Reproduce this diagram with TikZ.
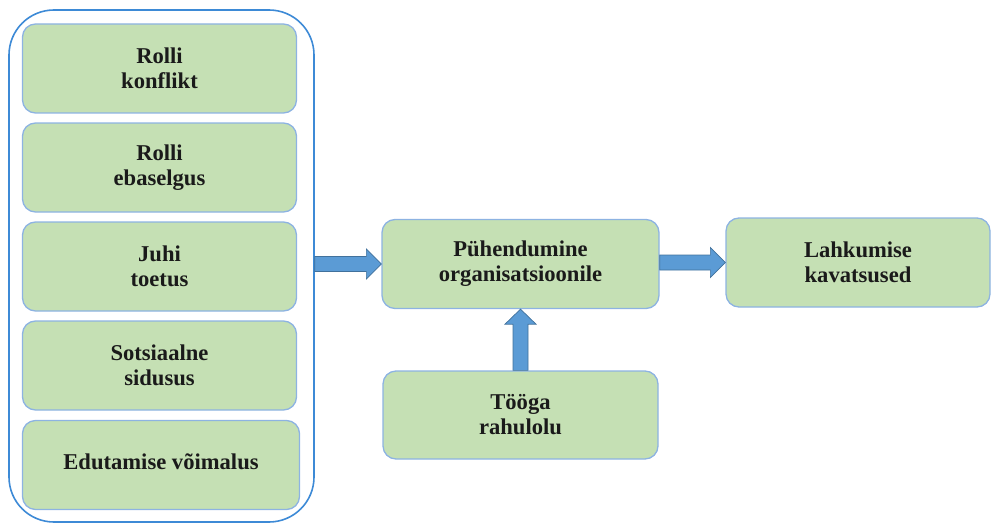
\documentclass[tikz,border=0pt]{standalone}
\usepackage{fontspec}
\setmainfont{Liberation Serif}
\usetikzlibrary{calc}

\definecolor{boxfill}{HTML}{C5E0B4}
\definecolor{boxline}{HTML}{8DB3E2}
\definecolor{groupline}{HTML}{3D8AD6}
\definecolor{arrowfill}{HTML}{5B9BD5}
\definecolor{arrowline}{HTML}{41719C}
\definecolor{textcol}{HTML}{1A1A1A}

% horizontal block arrow: from the x of #1 to the west anchor #2
\newcommand\hblockarrow[2]{%
  \filldraw[blockarrow]
    ($(#1 |- #2)+(0,-7.5)$) -- ($(#2)+(-15,-7.5)$) -- ($(#2)+(-15,-15)$) --
    (#2) -- ($(#2)+(-15,15)$) -- ($(#2)+(-15,7.5)$) --
    ($(#1 |- #2)+(0,7.5)$) -- cycle;}
% vertical block arrow pointing up: from the y of #1 to the south anchor #2
\newcommand\vblockarrow[2]{%
  \filldraw[blockarrow]
    ($(#2 |- #1)+(-7.5,0)$) -- ($(#2)+(-7.5,15)$) -- ($(#2)+(-15.5,15)$) --
    (#2) -- ($(#2)+(15.5,15)$) -- ($(#2)+(7.5,15)$) --
    ($(#2 |- #1)+(7.5,0)$) -- cycle;}

\begin{document}
\begin{tikzpicture}[x=1pt,y=-1pt,
  factor/.style={rectangle, rounded corners=13pt, draw=boxline, fill=boxfill,
    line width=1.3pt, align=center, inner sep=0pt, text=textcol,
    font=\fontsize{22.6}{25}\selectfont\bfseries,
    minimum width=#1, minimum height=89pt},
  factor/.default=274pt,
  group/.style={rectangle, rounded corners=45pt, draw=groupline, line width=1.6pt,
    minimum width=305pt, minimum height=512pt, inner sep=0pt},
  blockarrow/.style={fill=arrowfill, draw=arrowline, line width=0.7pt, line join=miter}
]
\useasboundingbox (0,0) rectangle (992,524);

% container of the five antecedents
\node[group] (group) at (161.5,266) {};

\node[factor] (rk) at (159.5,68.5) {Rolli\\konflikt};
\node[factor] (re) at (159.5,167.5) {Rolli\\ebaselgus};
\node[factor] (jt) at (159.5,266.5) {Juhi\\toetus};
\node[factor] (ss) at (159.5,365.5) {Sotsiaalne\\sidusus};
\node[factor=277pt] (ev) at (161,465) {\raisebox{7pt}{Edutamise võimalus}};

% mediator, outcome and satisfaction
\node[factor=277pt] (po) at (520.5,264) {Pühendumine\\organisatsioonile};
\node[factor=264pt] (lk) at (858,262.5) {Lahkumise\\kavatsused};
\node[factor=275pt, minimum height=88pt] (tr) at (520.5,415) {Tööga\\rahulolu};

% connectors
\hblockarrow{group.east}{po.west}
\hblockarrow{po.east}{lk.west}
\vblockarrow{tr.north}{po.south}
\end{tikzpicture}
\end{document}
